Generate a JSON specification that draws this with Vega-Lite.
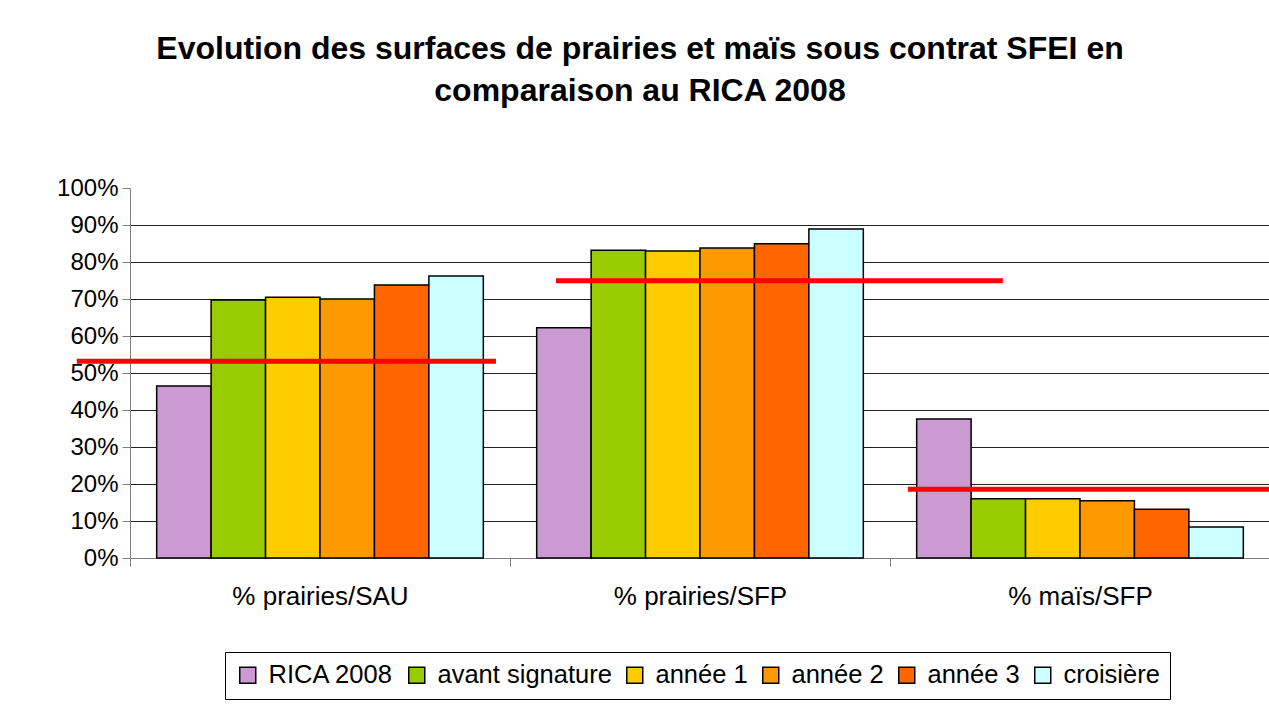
{
  "$schema": "https://vega.github.io/schema/vega-lite/v6.json",
  "width": 1140,
  "height": 370,
  "autosize": {"type": "none"},
  "padding": {"left": 130, "top": 188, "right": 0, "bottom": 146},
  "background": "white",
  "title": {
    "text": ["Evolution des surfaces de prairies et maïs sous contrat SFEI en", "comparaison au RICA 2008"],
    "font": "Liberation Sans",
    "fontSize": 32,
    "fontWeight": "bold",
    "color": "black",
    "anchor": "middle",
    "dx": -60,
    "offset": 68,
    "lineHeight": 42
  },
  "config": {
    "font": "Liberation Sans",
    "view": {"stroke": null}
  },
  "datasets": {
    "bars": [
      {"indicateur": "% prairies/SAU", "serie": "RICA 2008", "valeur": 0.465},
      {"indicateur": "% prairies/SAU", "serie": "avant signature", "valeur": 0.697},
      {"indicateur": "% prairies/SAU", "serie": "année 1", "valeur": 0.705},
      {"indicateur": "% prairies/SAU", "serie": "année 2", "valeur": 0.70},
      {"indicateur": "% prairies/SAU", "serie": "année 3", "valeur": 0.738},
      {"indicateur": "% prairies/SAU", "serie": "croisière", "valeur": 0.762},
      {"indicateur": "% prairies/SFP", "serie": "RICA 2008", "valeur": 0.622},
      {"indicateur": "% prairies/SFP", "serie": "avant signature", "valeur": 0.832},
      {"indicateur": "% prairies/SFP", "serie": "année 1", "valeur": 0.830},
      {"indicateur": "% prairies/SFP", "serie": "année 2", "valeur": 0.838},
      {"indicateur": "% prairies/SFP", "serie": "année 3", "valeur": 0.849},
      {"indicateur": "% prairies/SFP", "serie": "croisière", "valeur": 0.889},
      {"indicateur": "% maïs/SFP", "serie": "RICA 2008", "valeur": 0.376},
      {"indicateur": "% maïs/SFP", "serie": "avant signature", "valeur": 0.160},
      {"indicateur": "% maïs/SFP", "serie": "année 1", "valeur": 0.160},
      {"indicateur": "% maïs/SFP", "serie": "année 2", "valeur": 0.155},
      {"indicateur": "% maïs/SFP", "serie": "année 3", "valeur": 0.132},
      {"indicateur": "% maïs/SFP", "serie": "croisière", "valeur": 0.084}
    ],
    "refs": [
      {"debut": -0.14, "fin": 0.963, "valeur": 0.532},
      {"debut": 1.121, "fin": 2.297, "valeur": 0.749},
      {"debut": 2.047, "fin": 3.0, "valeur": 0.186}
    ]
  },
  "layer": [
    {
      "data": {"name": "bars"},
      "mark": {"type": "bar", "stroke": "black", "strokeWidth": 1.5},
      "encoding": {
        "x": {
          "field": "indicateur",
          "type": "nominal",
          "sort": ["% prairies/SAU", "% prairies/SFP", "% maïs/SFP"],
          "scale": {"paddingInner": 0, "paddingOuter": 0},
          "axis": {
            "title": null,
            "labelAngle": 0,
            "labelFontSize": 26,
            "labelColor": "black",
            "labelPadding": 17,
            "tickBand": "extent",
            "tickSize": 8,
            "tickColor": "#808080",
            "domainColor": "#808080",
            "grid": false
          }
        },
        "xOffset": {
          "field": "serie",
          "sort": ["RICA 2008", "avant signature", "année 1", "année 2", "année 3", "croisière"],
          "scale": {"paddingInner": 0, "paddingOuter": 0.49}
        },
        "y": {
          "field": "valeur",
          "type": "quantitative",
          "scale": {"domain": [0, 1], "nice": false},
          "axis": {
            "title": null,
            "format": ".0%",
            "values": [0, 0.1, 0.2, 0.3, 0.4, 0.5, 0.6, 0.7, 0.8, 0.9, 1],
            "tickCount": 20,
            "labelOverlap": false,
            "labelFontSize": 24,
            "labelColor": "black",
            "labelPadding": 4,
            "tickSize": 8,
            "tickColor": "#808080",
            "domainColor": "#808080",
            "grid": true,
            "gridColor": "#222222",
            "gridOpacity": {"condition": {"test": "datum.value >= 1 || datum.value <= 0", "value": 0}, "value": 1}
          }
        },
        "fill": {
          "field": "serie",
          "type": "nominal",
          "sort": ["RICA 2008", "avant signature", "année 1", "année 2", "année 3", "croisière"],
          "scale": {
            "domain": ["RICA 2008", "avant signature", "année 1", "année 2", "année 3", "croisière"],
            "range": ["#c99bd0", "#99cc00", "#ffcc00", "#ff9900", "#ff6600", "#ccffff"]
          },
          "legend": {
            "title": null,
            "orient": "none",
            "legendX": 95,
            "legendY": 464,
            "direction": "horizontal",
            "strokeColor": "black",
            "padding": 10,
            "symbolType": "square",
            "symbolSize": 256,
            "symbolStrokeColor": "black",
            "symbolStrokeWidth": 1.5,
            "labelFontSize": 25.5,
            "labelLimit": 300,
            "labelColor": "black",
            "columnPadding": 10,
            "labelOffset": 8
          }
        }
      }
    },
    {
      "data": {"name": "refs"},
      "mark": {"type": "rule", "color": "#ff0000", "strokeWidth": 5},
      "encoding": {
        "x": {"field": "debut", "type": "quantitative", "scale": {"domain": [0, 3], "nice": false, "zero": false}, "axis": null},
        "x2": {"field": "fin"},
        "y": {"field": "valeur", "type": "quantitative"}
      }
    }
  ],
  "resolve": {"scale": {"x": "independent"}}
}
